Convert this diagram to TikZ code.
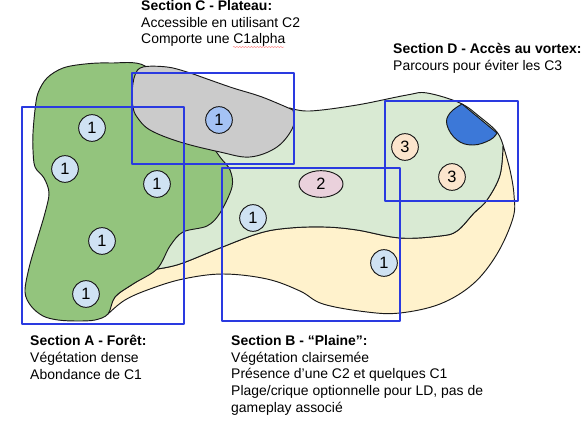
\documentclass[tikz,border=0pt]{standalone}
\usepackage{fontspec}
\setmainfont{Liberation Sans}
\usetikzlibrary{decorations.pathmorphing,shapes.geometric}
\definecolor{forest}{HTML}{93C47D}
\definecolor{plain}{HTML}{D9EAD3}
\definecolor{beach}{HTML}{FFF2CC}
\definecolor{plateau}{HTML}{CBCBCB}
\definecolor{vortex}{HTML}{3C78D8}
\definecolor{zoneblue}{HTML}{2A3AE0}
\definecolor{spotblue}{HTML}{CFE2F3}
\definecolor{spotdark}{HTML}{A4C2F4}
\definecolor{spotpink}{HTML}{EAD1DC}
\definecolor{spotpeach}{HTML}{FCE5CD}

\begin{document}
\begin{tikzpicture}[x=0.03cm, y=-0.03cm, line cap=round, line join=round,
  region/.style={draw=black!90, line width=0.8pt},
  zone/.style={draw=zoneblue, line width=1.1pt},
  spot/.style={circle, draw=black!90, line width=0.8pt, fill=spotblue, minimum size=0.8cm, inner sep=0pt, font=\fontsize{14}{16}\selectfont},
  sectiontext/.style={anchor=north west, align=left, inner sep=0pt, font=\fontsize{11.9}{14.25}\selectfont}]
\useasboundingbox (0,0) rectangle (586,428);
% beach
\draw[region, fill=beach]
  plot[smooth, tension=0.6] coordinates {(503,145) (510,170) (514,195) (513,218) (497,254) (473,284) (440,304) (400,313) (367,312) (323,304) (300,291) (267,279) (223,274) (183,279) (150,289) (125,300) (108,314)}
  -- plot[smooth, tension=0.6] coordinates {(108,314) (115,297) (133,284) (157,269)}
  -- plot[smooth, tension=0.6] coordinates {(157,269) (180,264) (220,248) (260,233) (290,228) (325,227) (357,230) (400,238) (440,236) (457,231) (474,213) (487,200) (500,175) (503,145)}
  -- cycle;
% plain
\draw[region, fill=plain]
  plot[smooth, tension=0.6] coordinates {(290,108) (310,111) (357,105) (407,95) (427,93) (460,103) (480,117) (497,132) (503,145)}
  -- plot[smooth, tension=0.6] coordinates {(503,145) (500,175) (487,200) (474,213) (457,231) (440,236) (400,238) (357,230) (325,227) (290,228) (260,233) (220,248) (180,264) (157,269)}
  -- (150,150) -- cycle;
% forest
\draw[region, fill=forest]
  plot[smooth cycle, tension=0.55] coordinates {(33,133) (35,110) (38,93) (47,78) (63,68) (85,64) (110,63) (145,66) (170,100) (200,130) (220,157) (230,170) (232,187) (220,213) (207,226) (183,232) (170,246) (157,269) (133,284) (115,297) (108,314) (95,320) (77,321) (58,320) (43,316) (31,306) (25,292) (29,268) (37,240) (45,213) (49,193) (44,178) (35,167) (33,150)};
% plateau
\draw[region, fill=plateau]
  plot[smooth, tension=0.6] coordinates {(293,110) (293,127) (277,147) (250,157) (220,152) (180,142) (150,130) (137,117) (133,107) (132,93) (135,75) (143,67) (167,67) (187,72) (210,80) (233,88) (262,97) (293,110)} -- cycle;
% vortex
\draw[region, fill=vortex]
  plot[smooth, tension=0.7] coordinates {(462,104) (450,113) (447,125) (457,140) (473,145) (490,140) (497,133)} -- cycle;
% zones
\draw[zone] (22,107) rectangle (184,324);
\draw[zone] (132,73) rectangle (294,164);
\draw[zone] (222,168) rectangle (400,321);
\draw[zone] (385,101) rectangle (518,201);
% spots
\foreach \x/\y/\n in {92/128/a,65/169/b,157/184/c,102/241/d,86/294/e,253/218/f,384/263/g}
  \node[spot] (one\n) at (\x,\y) {1};
\node[spot, fill=spotdark] (alpha) at (219,120) {1};
\node[spot, fill=spotpink, ellipse, minimum width=1.32cm, minimum height=0.8cm] (two) at (321,184) {2};
\node[spot, fill=spotpeach] (threea) at (405,147) {3};
\node[spot, fill=spotpeach] (threeb) at (452,177) {3};
% labels
\node[sectiontext] (secc) at (141,0) {\textbf{Section C - Plateau:}\\Accessible en utilisant C2\\Comporte une C1alpha};
\draw[red!70, line width=0.3pt, decorate, decoration={snake, amplitude=0.4pt, segment length=2.5pt}] (233,47) -- (284,47);
\node[sectiontext] (secd) at (393,43.5) {\textbf{Section D - Accès au vortex:}\\Parcours pour éviter les C3};
\node[sectiontext] (seca) at (30,335) {\textbf{Section A - Forêt:}\\Végétation dense\\Abondance de C1};
\node[sectiontext] (secb) at (231,335) {\textbf{Section B - “Plaine”:}\\Végétation clairsemée\\Présence d’une C2 et quelques C1\\Plage/crique optionnelle pour LD, pas de\\gameplay associé};
\end{tikzpicture}
\end{document}
